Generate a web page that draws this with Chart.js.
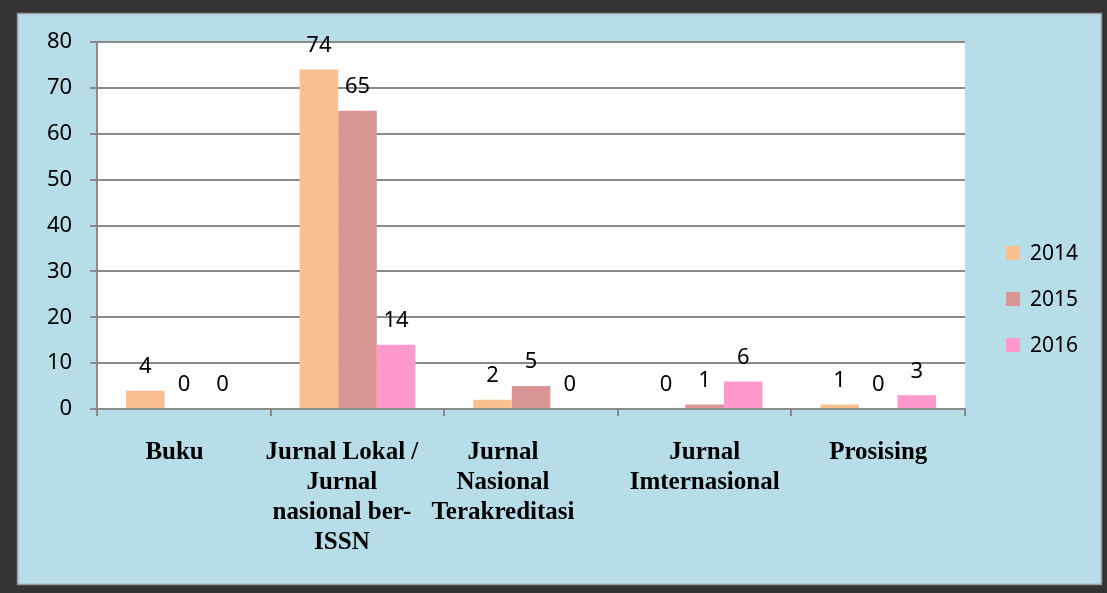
<!DOCTYPE html>
<html>
<head>
<meta charset="utf-8">
<script src="https://cdn.jsdelivr.net/npm/chart.js@4/dist/chart.umd.min.js"></script>
<style>
  html, body { margin: 0; padding: 0; background: #333333; }
  #wrap { width: 1107px; height: 593px; }
</style>
</head>
<body>
<div id="wrap"><canvas id="barChart" width="1107" height="593"></canvas></div>
<script>
// Categories (wrapped the way they appear under the axis)
const categories = [
    ['Buku'],
    ['Jurnal Lokal /', 'Jurnal', 'nasional ber-', 'ISSN'],
    ['Jurnal', 'Nasional', 'Terakreditasi'],
    ['Jurnal', 'Imternasional'],
    ['Prosising'],
];
const years = ['2014', '2015', '2016'];
const values2014 = [4, 74, 2, 0, 1];
const values2015 = [0, 65, 5, 1, 0];
const values2016 = [0, 14, 0, 6, 3];
const yMin = 0;
const yMax = 80;
const yStep = 10;

const colors = ['#fac090', '#d99694', '#ff99cc'];
const gridColor = '#8a8a8a';
// Excel pushed the first labels a bit to the left; trailing spaces do the same here
const labelNudge = [3, 5, 9, 0, 0];
const axisLabels = categories.map((lines, i) => lines.map((s) => s + ' '.repeat(labelNudge[i])));

// Frame, blue panel and white plot area
const backdrop = {
    id: 'backdrop',
    beforeDraw(chart) {
        const ctx = chart.ctx;
        const a = chart.chartArea;
        ctx.save();
        ctx.fillStyle = '#333333';
        ctx.fillRect(0, 0, chart.width, chart.height);
        ctx.fillStyle = '#b7dde8';
        ctx.fillRect(17, 13, 1085, 572);
        ctx.strokeStyle = '#9a9a9a';
        ctx.lineWidth = 1.5;
        ctx.strokeRect(17.5, 13.5, 1084, 571);
        ctx.fillStyle = '#ffffff';
        ctx.fillRect(a.left, a.top, a.right - a.left, a.bottom - a.top);
        ctx.restore();
    },
};

// Value above each bar
const valueLabels = {
    id: 'valueLabels',
    afterDatasetsDraw(chart) {
        const ctx = chart.ctx;
        ctx.save();
        ctx.font = '22px "Noto Sans"';
        ctx.fillStyle = '#000000';
        ctx.textAlign = 'center';
        ctx.textBaseline = 'middle';
        chart.data.datasets.forEach((ds, i) => {
            chart.getDatasetMeta(i).data.forEach((bar, j) => {
                ctx.fillText(String(ds.data[j]), bar.x, bar.y - 24);
            });
        });
        ctx.restore();
    },
};

// Legend on the right, as in the original
const sideLegend = {
    id: 'sideLegend',
    afterDraw(chart) {
        const ctx = chart.ctx;
        ctx.save();
        ctx.font = '21px "Noto Sans"';
        ctx.textBaseline = 'middle';
        chart.data.datasets.forEach((ds, i) => {
            const cy = 253 + i * 46;
            ctx.fillStyle = ds.backgroundColor;
            ctx.fillRect(1006, cy - 7, 14, 14);
            ctx.fillStyle = '#000000';
            ctx.fillText(ds.label, 1030, cy + 1);
        });
        ctx.restore();
    },
};

new Chart('barChart', {
    type: 'bar',
    data: {
        labels: axisLabels,
        datasets: [
            { label: years[0], data: values2014, backgroundColor: colors[0] },
            { label: years[1], data: values2015, backgroundColor: colors[1] },
            { label: years[2], data: values2016, backgroundColor: colors[2] },
        ],
    },
    options: {
        responsive: false,
        animation: false,
        devicePixelRatio: 1,
        layout: { padding: { left: 29, top: 42, right: 142, bottom: 13 } },
        datasets: { bar: { categoryPercentage: 0.667, barPercentage: 1, borderWidth: 0 } },
        plugins: {
            legend: { display: false },
            tooltip: { enabled: false },
        },
        scales: {
            x: {
                grid: { drawOnChartArea: false, drawTicks: true, tickLength: 7, color: gridColor, lineWidth: 2, offset: true },
                border: { color: gridColor, width: 2 },
                ticks: {
                    color: '#000000',
                    font: { family: '"Liberation Serif"', size: 25, weight: 'bold', lineHeight: 1.2 },
                    padding: 22,
                    maxRotation: 0,
                    autoSkip: false,
                },
            },
            y: {
                min: yMin,
                max: yMax,
                grid: { color: gridColor, lineWidth: 2, tickLength: 7 },
                border: { color: gridColor, width: 2 },
                ticks: {
                    stepSize: yStep,
                    color: '#000000',
                    font: { family: '"Noto Sans"', size: 22 },
                    padding: 18,
                },
            },
        },
    },
    plugins: [backdrop, valueLabels, sideLegend],
});
</script>
</body>
</html>
